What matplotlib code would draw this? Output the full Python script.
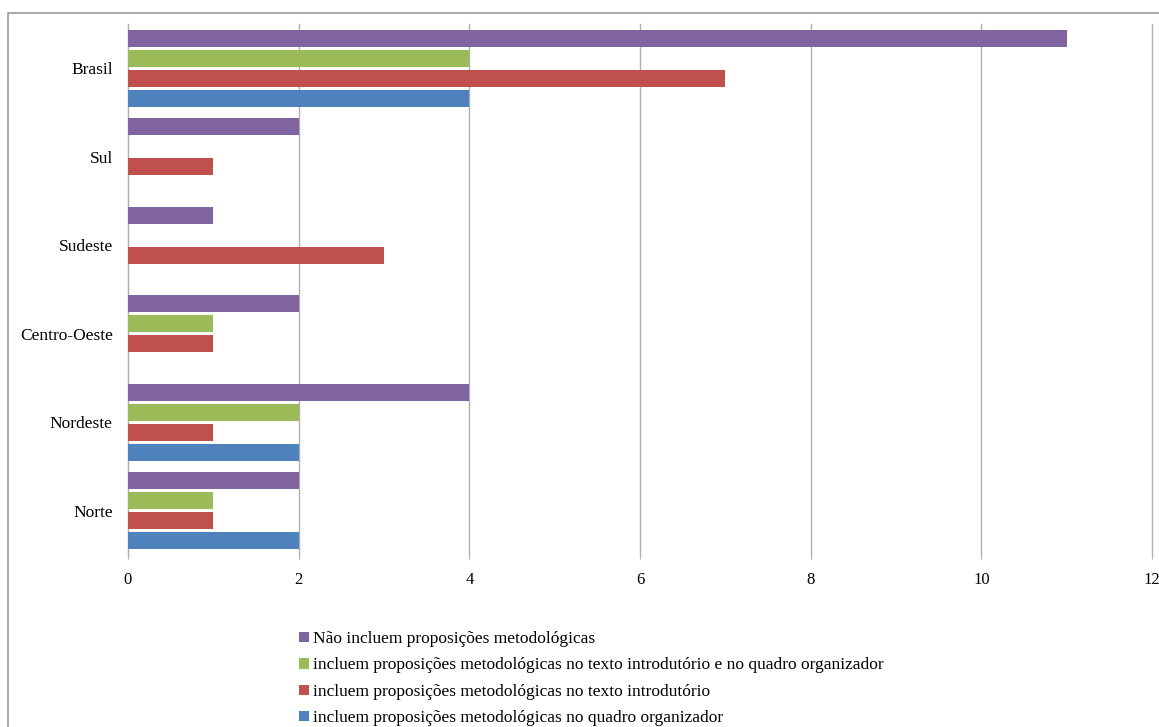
import matplotlib.pyplot as plt
from matplotlib.patches import Rectangle
import numpy as np

regioes = ["Norte", "Nordeste", "Centro-Oeste", "Sudeste", "Sul", "Brasil"]
series = [
    "Não incluem proposições metodológicas",
    "incluem proposições metodológicas no texto introdutório e no quadro organizador",
    "incluem proposições metodológicas no texto introdutório",
    "incluem proposições metodológicas no quadro organizador",
]
nao_incluem = [2, 4, 2, 1, 2, 11]
texto_e_quadro = [1, 2, 1, 0, 0, 4]
texto = [1, 1, 1, 3, 1, 7]
quadro = [2, 2, 0, 0, 0, 4]
cores = ["#8064A2", "#9BBB59", "#C0504D", "#4F81BD"]

plt.rcParams['font.family'] = ['Liberation Serif', 'DejaVu Serif']

fig = plt.figure(figsize=(11.59, 7.27), dpi=100)
ax = fig.add_axes([0.1104, 0.2366, 0.8836, 0.7304])

# outer frame like the exported Excel chart
fig.patches.append(Rectangle((8 / 1159, -0.1), 1.2, 1 - 13 / 727 + 0.1,
                             transform=fig.transFigure, fill=False,
                             edgecolor="#9a9a9a", linewidth=1.2))

y = np.arange(len(regioes))
slot = 0.226
h = 0.19
valores = [nao_incluem, texto_e_quadro, texto, quadro]
for i, (vals, cor, nome) in enumerate(zip(valores, cores, series)):
    off = (1.5 - i) * slot
    ax.barh(y + off, vals, height=h, color=cor, label=nome, zorder=3)

ax.set_xlim(0, 12)
ax.set_ylim(-0.5, len(regioes) - 0.5)
ax.set_xticks(range(0, 13, 2))
ax.set_yticks(y)
ax.set_yticklabels(regioes)
ax.xaxis.grid(True, color="#b0b0b0", linewidth=1)
for gl in ax.get_xgridlines():
    gl.set_clip_on(False)
ax.set_axisbelow(True)
for s in ["top", "right", "bottom"]:
    ax.spines[s].set_visible(False)
ax.spines["left"].set_color("#b0b0b0")
ax.tick_params(axis="x", length=3, color="#b0b0b0", labelsize=12, pad=9)
ax.tick_params(axis="y", length=0, labelsize=12.5, pad=11)

fig.legend(loc="upper left", bbox_to_anchor=(0.252, 0.1415), frameon=False,
           fontsize=12.5, handlelength=0.55, handleheight=0.55,
           handletextpad=0.25, labelspacing=0.6, borderaxespad=0)

plt.savefig("out.png", dpi=100)
